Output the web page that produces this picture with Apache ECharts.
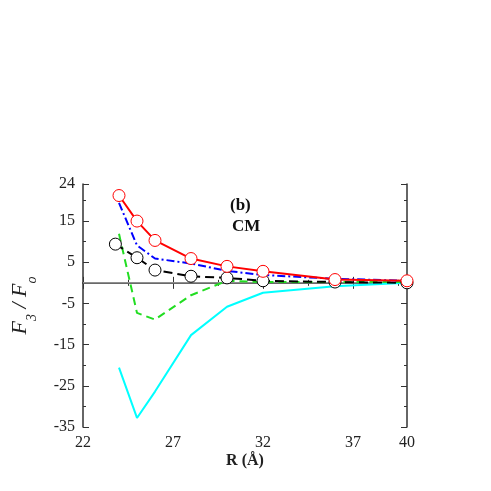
<!DOCTYPE html><html><head><meta charset="utf-8"><script src="https://cdn.jsdelivr.net/npm/echarts@6/dist/echarts.min.js"></script>
<style>body{margin:0}#c{width:491px;height:491px}</style></head><body><div id="c"></div><script>
const xRed=[24,25,26,28,30,32,36,40], red=[21.2,15.0,10.3,5.9,4.0,2.8,0.8,0.5];
const xBlue=[24,25,26,28,30,32,36,40], blue=[19.4,9.1,5.9,4.7,2.9,1.9,1.0,0.5];
const xBlack=[23.8,25,26,28,30,32,36,40], black=[9.4,6.1,3.1,1.6,1.2,0.5,0.2,0];
const xGreen=[24,25,26,28,30,32,36,40], green=[11.9,-7.3,-8.9,-3,0.5,0.2,0.2,0.2];
const xCyan=[24,25,26,28,30,32,36,40], cyan=[-20.6,-32.8,-26.4,-12.7,-5.8,-2.4,-0.8,0];
const z=(xs,ys)=>xs.map((x,i)=>[x,ys[i]]);
const F='Liberation Serif';
const ax=(show)=>({axisLine:{show:true,lineStyle:{color:'#333',width:1.5}},axisTick:{inside:true,length:6,lineStyle:{color:'#333'}},minorTick:{show:true,splitNumber:2,length:3,lineStyle:{color:'#333'}},axisLabel:{show:show,fontFamily:F,fontSize:16,color:'#222'},splitLine:{show:false}});
const c=echarts.init(document.getElementById('c'));
c.setOption({animation:false,
grid:{left:83,right:84,top:184,bottom:64},
xAxis:[Object.assign({type:'value',min:22,max:40,interval:5,name:'R (Å)',nameLocation:'middle',nameGap:26,nameTextStyle:{fontFamily:F,fontSize:16,fontWeight:'bold',color:'#222'}},ax(true)),
Object.assign({type:'value',min:22,max:40,interval:5,position:'top'},ax(false))],
yAxis:[Object.assign({type:'value',min:-35,max:24,interval:10,name:'{i|F}{s|3}{i| / F}{s|o}',nameLocation:'middle',nameGap:52,nameTextStyle:{rich:{i:{fontFamily:F,fontStyle:'italic',fontSize:22,color:'#222'},s:{fontFamily:F,fontStyle:'italic',fontSize:14,color:'#222',verticalAlign:'bottom',padding:[0,0,-8,0]}}}},ax(true),{minorTick:{show:true,splitNumber:2,length:3,lineStyle:{color:'#333'}}}),
Object.assign({type:'value',min:-35,max:24,interval:10,position:'right'},ax(false))],
graphic:[{type:'text',left:230,top:197,style:{text:'(b)',font:'bold 17px "Liberation Serif"',fill:'#111'}},
{type:'text',left:232,top:218,style:{text:'CM',font:'bold 17px "Liberation Serif"',fill:'#111'}}],
series:[
{type:'line',data:[[22,0],[40,0]],symbol:'none',lineStyle:{color:'#bbb',width:1},z:1,silent:true},
{type:'line',data:z(xCyan,cyan),symbol:'none',lineStyle:{color:'#00ffff',width:2}},
{type:'line',data:z(xGreen,green),symbol:'none',lineStyle:{color:'#22dd22',width:2,type:[8,5]}},
{type:'line',data:z(xBlack,black),symbol:'circle',symbolSize:12,itemStyle:{color:'#fff',borderColor:'#000',borderWidth:1},lineStyle:{color:'#000',width:2,type:[9,5]}},
{type:'line',data:z(xBlue,blue),symbol:'none',lineStyle:{color:'#0000ff',width:2,type:[8,3,2,3]}},
{type:'line',data:z(xRed,red),symbol:'circle',symbolSize:12,itemStyle:{color:'#fff',borderColor:'#ff0000',borderWidth:1},lineStyle:{color:'#ff0000',width:2}}
]});
</script></body></html>
